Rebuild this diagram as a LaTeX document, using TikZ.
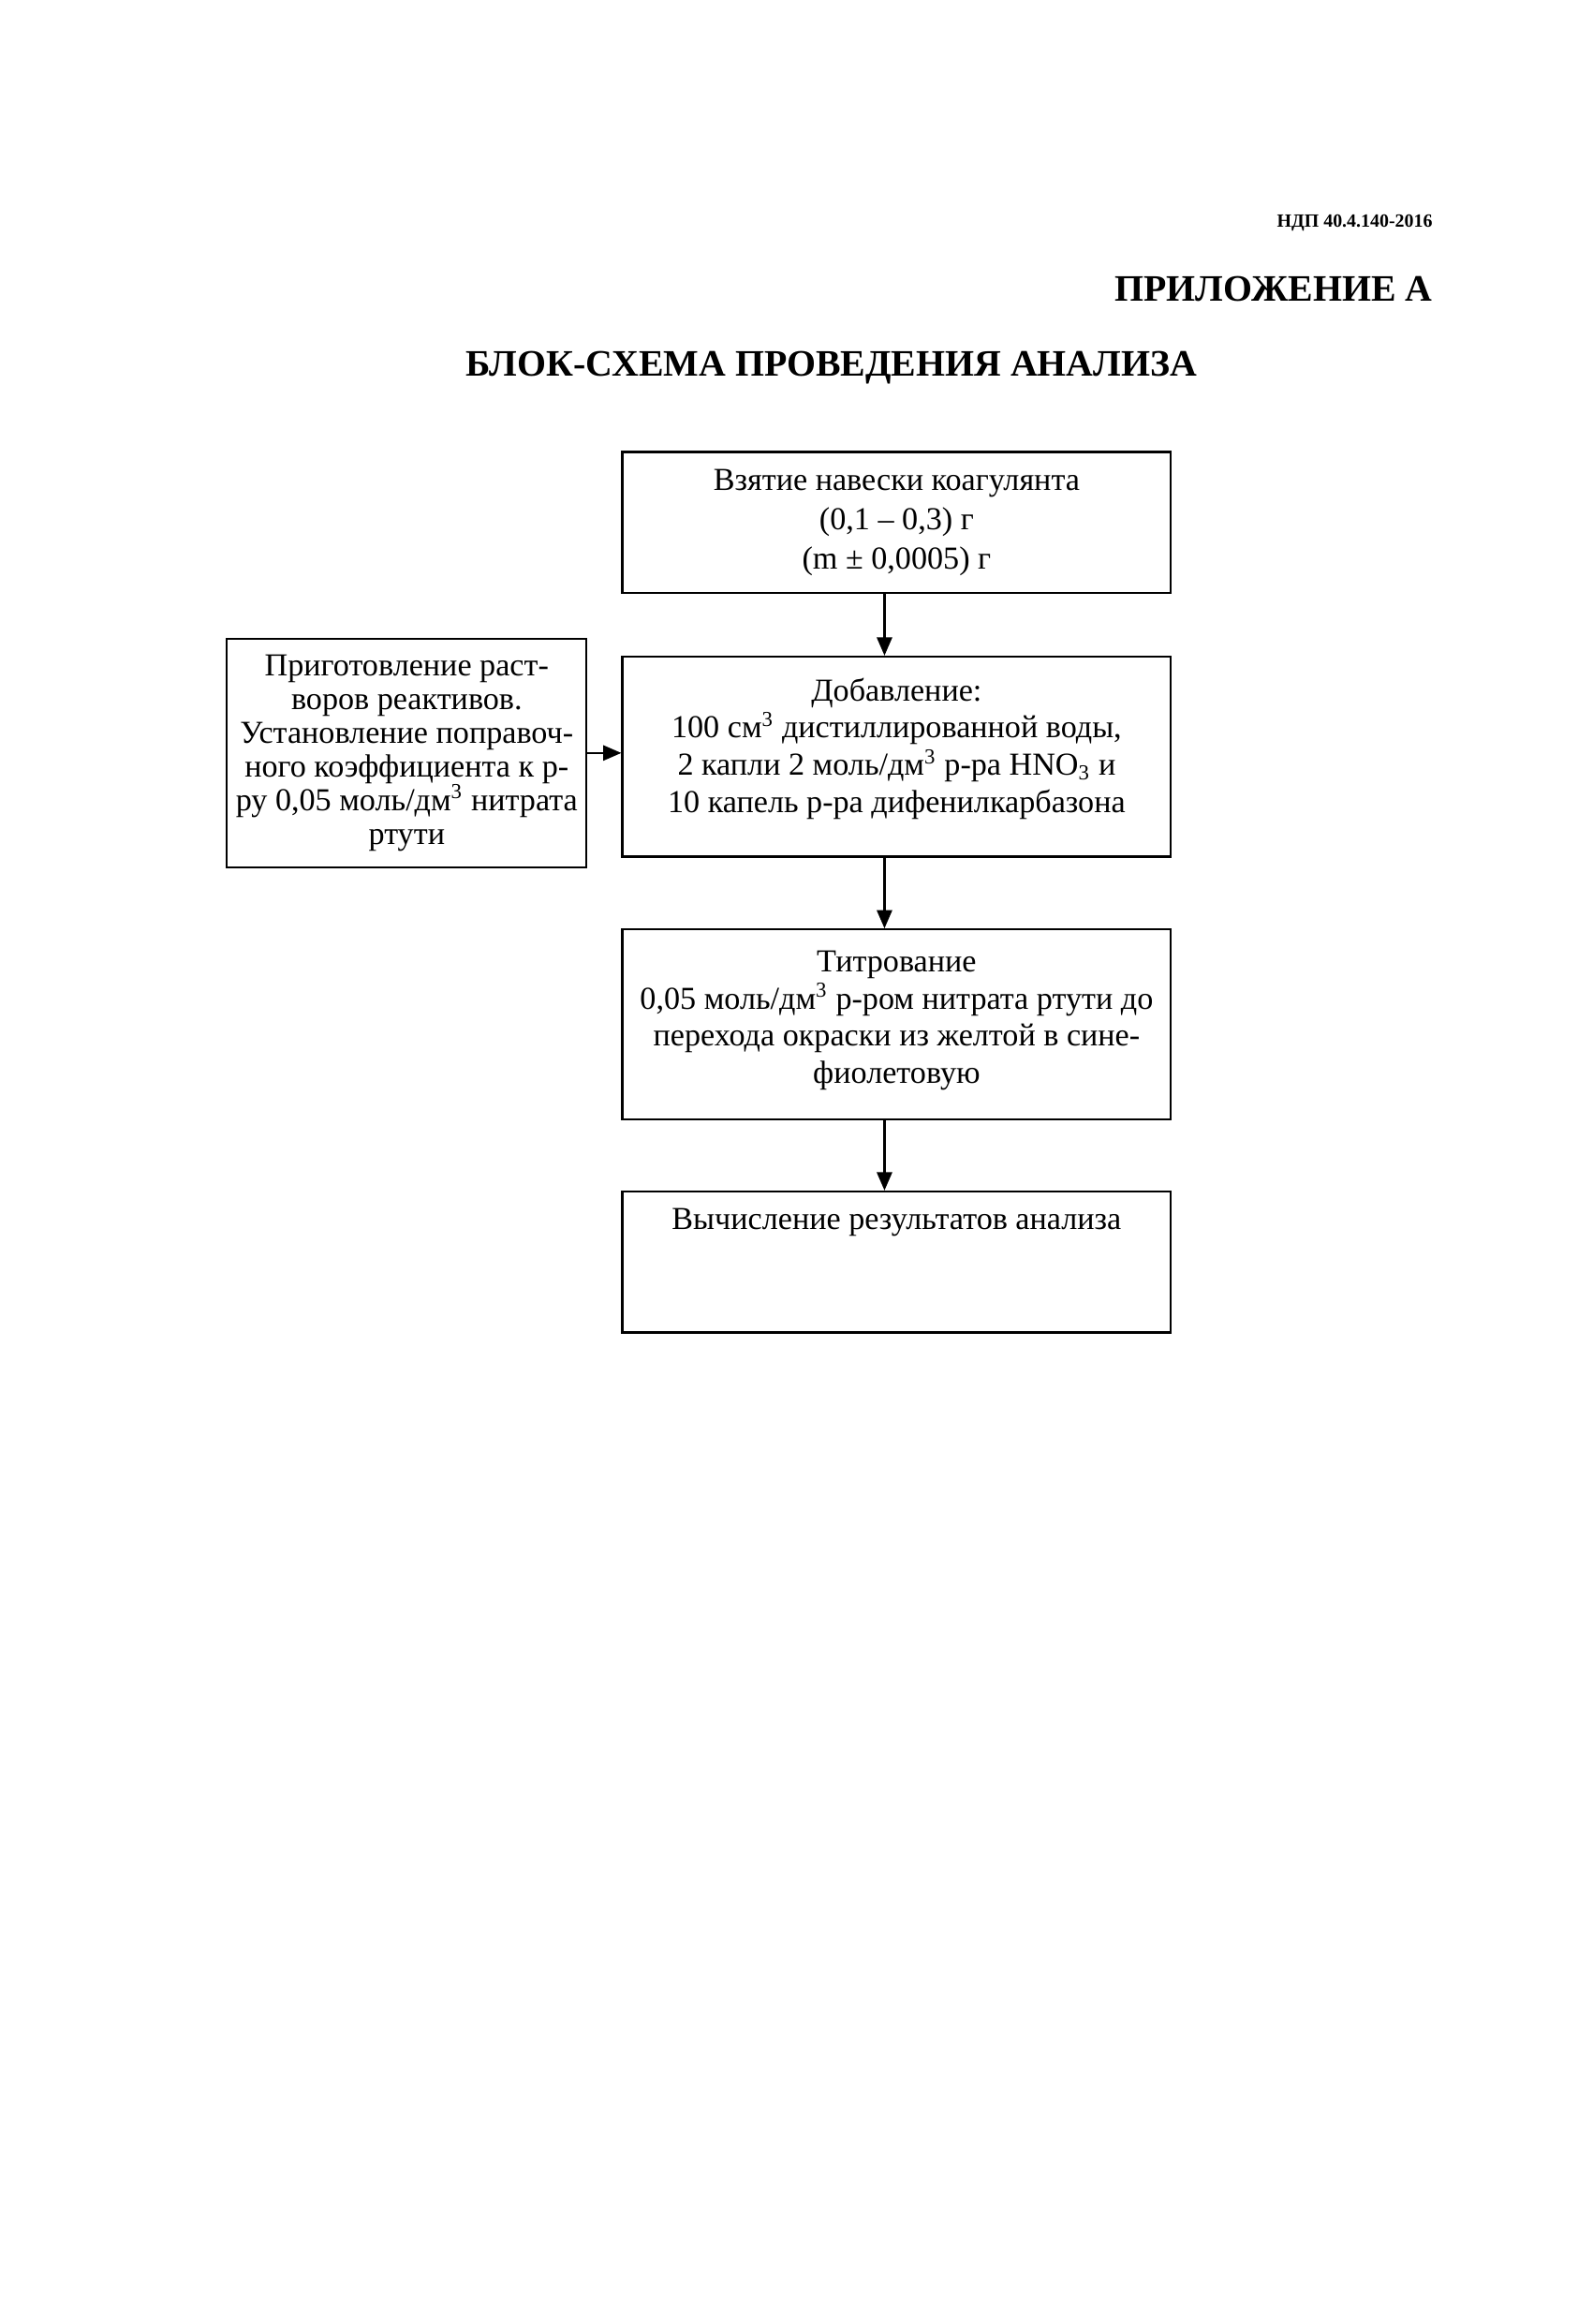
\documentclass[tikz,border=0pt]{standalone}
\usepackage{fontspec}
\setmainfont{Liberation Serif}
\usetikzlibrary{arrows.meta}

\begin{document}
\begin{tikzpicture}[
    stepbox/.style={draw, line width=0.8pt, minimum width=7.23cm, align=center, font=\fontsize{12}{14}\selectfont},
    prepbox/.style={draw, line width=0.8pt, minimum width=4.71cm, minimum height=3.01cm, align=center, font=\fontsize{12}{12.6}\selectfont},
    heading/.style={inner sep=0pt, font=\fontsize{14}{16}\selectfont\bfseries},
    arrow/.style={-{Triangle[length=2.4mm,width=2mm]}, line width=0.8pt}
]
\useasboundingbox (0,0) rectangle (21,-30.63);

\node[inner sep=0pt, anchor=base east, font=\fontsize{7}{8}\selectfont\bfseries] (docnum) at (18.89,-2.99) {НДП 40.4.140-2016};
\node[heading, anchor=base east] (appendix) at (18.89,-3.97) {ПРИЛОЖЕНИЕ А};
\node[heading, anchor=base] (title) at (10.96,-4.96) {БЛОК-СХЕМА ПРОВЕДЕНИЯ АНАЛИЗА};

\node[stepbox, minimum height=1.856cm, font=\fontsize{12}{14.7}\selectfont] (weigh) at (11.82,-6.886) {Взятие навески коагулянта\\(0,1 -- 0,3) г\\(m ± 0,0005) г};
\node[stepbox, minimum height=2.637cm, text depth=0.3cm] (addition) at (11.82,-9.973) {Добавление:\\100 см\textsuperscript{3} дистиллированной воды,\\2 капли 2 моль/дм\textsuperscript{3} р-ра HNO\textsubscript{3} и\\10 капель р-ра дифенилкарбазона};
\node[prepbox] (prep) at (5.362,-9.924) {Приготовление раст-\\воров реактивов.\\Установление поправоч-\\ного коэффициента к р-\\ру 0,05 моль/дм\textsuperscript{3} нитрата\\ртути};
\node[stepbox, minimum height=2.50cm, text depth=0.19cm] (titration) at (11.82,-13.50) {Титрование\\0,05 моль/дм\textsuperscript{3} р-ром нитрата ртути до\\перехода окраски из желтой в сине-\\фиолетовую};
\node[stepbox, anchor=north, inner ysep=0.2cm, text height=0.3cm, text depth=1.156cm] (calc) at (11.82,-15.69) {Вычисление результатов анализа};

\draw[arrow] ([xshift=-0.16cm]weigh.south) -- ([xshift=-0.16cm]addition.north);
\draw[arrow] ([xshift=-0.16cm]addition.south) -- ([xshift=-0.16cm]titration.north);
\draw[arrow] ([xshift=-0.16cm]titration.south) -- ([xshift=-0.16cm]calc.north);
\draw[arrow] (prep.east) -- (prep.east -| addition.west);
\end{tikzpicture}
\end{document}
